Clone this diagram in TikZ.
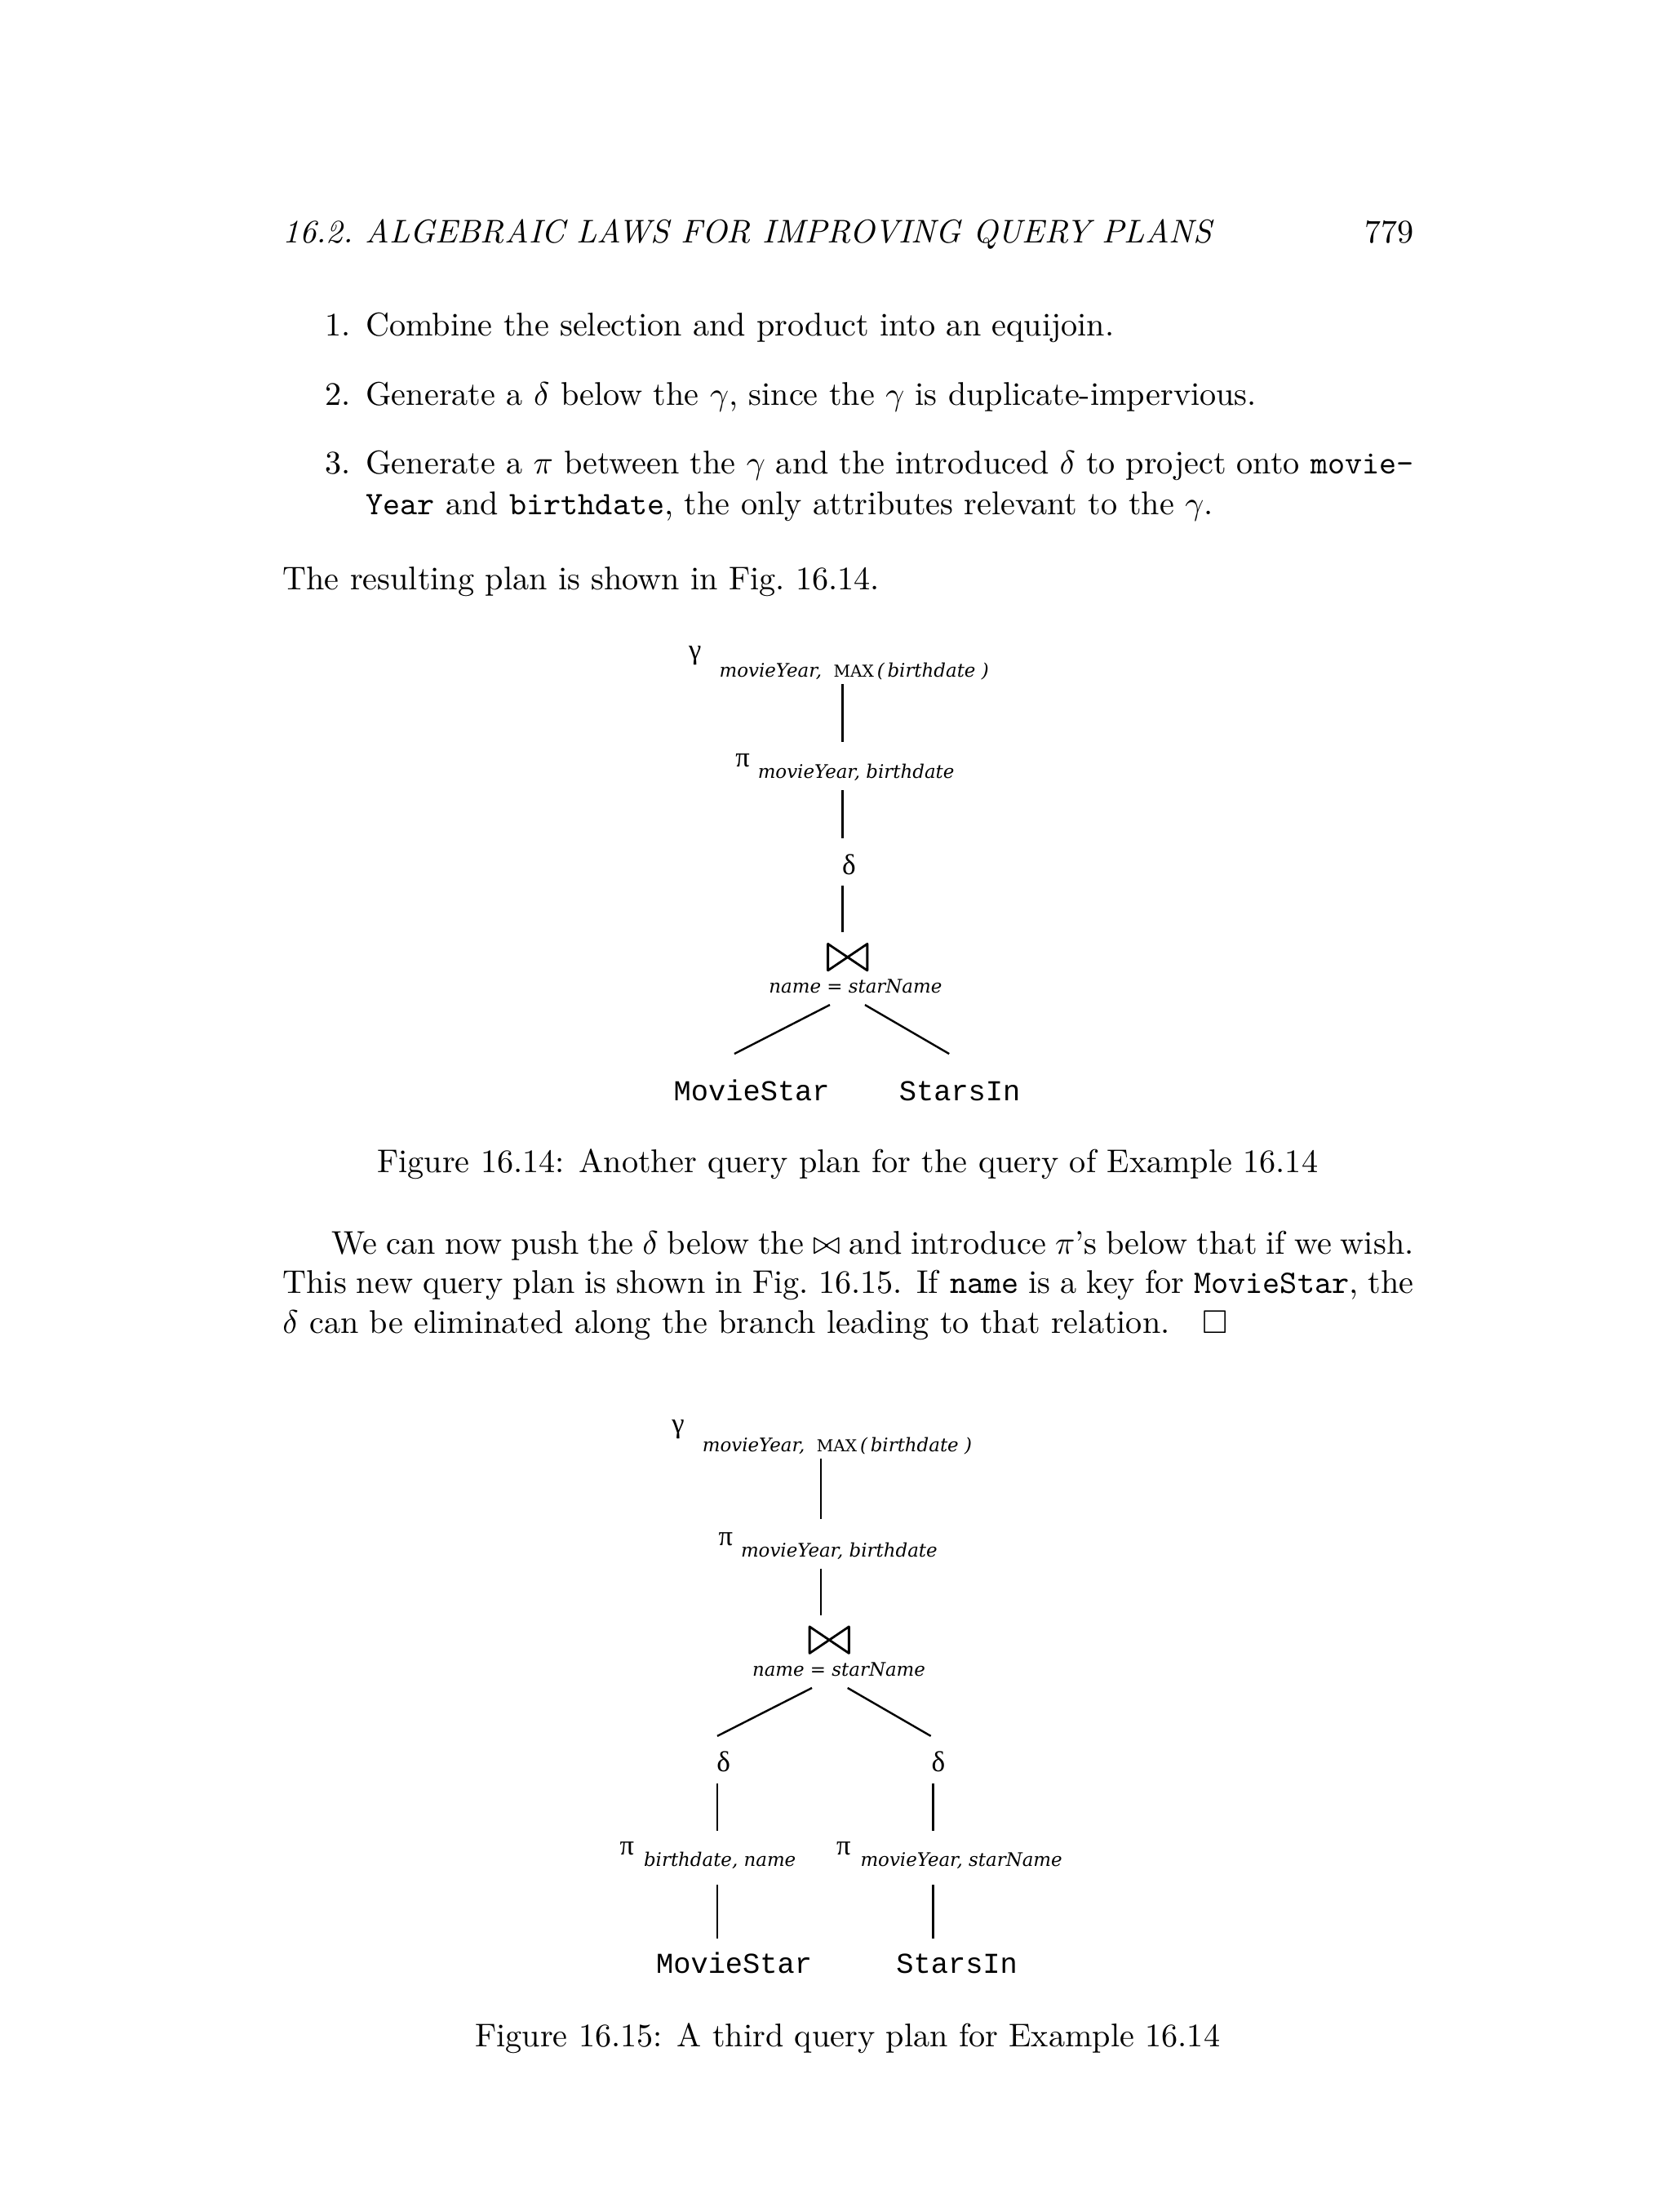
\documentclass[tikz,border=0pt]{standalone}
\usepackage{amsmath,amssymb}
\usepackage{fontspec}
\newfontfamily\planital{DejaVu Serif}
\newfontfamily\plangreek{Liberation Serif}
\newfontfamily\planmono{Liberation Mono}
\usetikzlibrary{calc}

\newcommand{\opsub}[1]{{\planital\itshape\fontsize{5.7}{6}\selectfont #1}}
\newcommand{\opmax}[1]{{\planital\upshape\fontsize{5}{6}\selectfont #1}}
\newcommand{\opgreek}[2]{\raisebox{#2}{\plangreek\fontsize{8.6}{9}\selectfont #1}}
\newcommand{\relname}[1]{{\planmono\fontsize{8.8}{10}\selectfont #1}}

\begin{document}
\begin{tikzpicture}[x=0.43pt, y=-0.43pt, line join=round,
    txt/.style={anchor=base west, inner sep=0pt},
    op/.style={anchor=base west, inner sep=0pt},
    dup/.style={anchor=base, inner sep=0pt, font=\plangreek\fontsize{8.8}{9}\selectfont},
    rel/.style={anchor=base, inner sep=0pt, font=\planmono\fontsize{8.8}{10}\selectfont},
    cond/.style={anchor=base, inner sep=0pt},
    joinsym/.style={inner sep=0pt, minimum width=11.6pt, minimum height=7.7pt},
    planline/.style={line width=0.6pt}]
  \useasboundingbox (0,0) rectangle (1185,1568);

  % page text
  \node[txt] (hdr) at (200,172) {\itshape 16.2.\ ALGEBRAIC LAWS FOR IMPROVING QUERY PLANS};
  \node[txt,anchor=base east] (pgno) at (1003,172) {779};
  \node[txt,anchor=base east] (num1) at (249,238) {1.};
  \node[txt] (item1) at (259,238) {Combine the selection and product into an equijoin.};
  \node[txt,anchor=base east] (num2) at (249,287) {2.};
  \node[txt] (item2) at (259,287) {Generate a $\delta$ below the $\gamma$, since the $\gamma$ is duplicate-impervious.};
  \node[txt,anchor=base east] (num3) at (249,336) {3.};
  \node[txt] (item3a) at (259,336) {\makebox[319.5pt][s]{Generate a $\pi$ between the $\gamma$ and the introduced $\delta$ to project onto \texttt{movie-}}};
  \node[txt] (item3b) at (259,365) {\texttt{Year} and \texttt{birthdate}, the only attributes relevant to the $\gamma$.};
  \node[txt] (res) at (200,418) {The resulting plan is shown in Fig.~16.14.};
  \node[txt,anchor=base] (cap1) at (601,831) {Figure 16.14: Another query plan for the query of Example 16.14};
  \node[txt] (para1) at (235,889) {\makebox[329.8pt][s]{We can now push the $\delta$ below the $\bowtie$ and introduce $\pi$'s below that if we wish.}};
  \node[txt] (para2) at (200,917) {\makebox[344.9pt][s]{This new query plan is shown in Fig.~16.15. If \texttt{name} is a key for \texttt{MovieStar}, the}};
  \node[txt] (para3) at (200,945) {$\delta$ can be eliminated along the branch leading to that relation.\quad$\Box$};
  \node[txt,anchor=base] (cap2) at (601,1451) {Figure 16.15: A third query plan for Example 16.14};

  % Figure 16.14
  \coordinate (ax1) at (597.5,0);
  \node[op] (gam1) at (488,480) {\opgreek{γ}{5.6pt}\hspace{5.5pt}\opsub{movieYear,\ \ \opmax{MAX}\,(\,birthdate\ )}};
  \node[op] (pi1) at (521,551.6) {\opgreek{π}{3.4pt}\hspace{2.5pt}\opsub{movieYear, birthdate}};
  \node[dup] (del1) at (602,620) {δ};
  \node[joinsym] (join1) at (601,678.5) {};
  \node[cond] (cond1) at (606.6,704) {\opsub{name = starName}};
  \node[rel] (ms1) at (533,780) {MovieStar};
  \node[rel] (si1) at (680.5,780) {StarsIn};
  \draw[line width=0.7pt] (join1.north west) -- (join1.south east) -- (join1.north east) -- (join1.south west) -- cycle;
  \draw[planline] ($(gam1.base -| ax1)+(0,5)$) -- ($(pi1.base -| ax1)+(0,-25.6)$);
  \draw[planline] ($(pi1.base -| ax1)+(0,8.4)$) -- ($(del1.base -| ax1)+(0,-26)$);
  \draw[planline] ($(del1.base -| ax1)+(0,8)$) -- ($(join1.center -| ax1)+(0,-17.5)$);
  \draw[planline] ($(cond1.base)+(-18.2,8.3)$) -- ($(ms1.base)+(-12.3,-33)$);
  \draw[planline] ($(cond1.base)+(6.7,8.3)$) -- ($(si1.base)+(-7.5,-33)$);

  % Figure 16.15
  \coordinate (ax2) at (582,0);
  \coordinate (axL) at (508.5,0);
  \coordinate (axR) at (661.5,0);
  \node[op] (gam2) at (476,1029) {\opgreek{γ}{5.6pt}\hspace{5.5pt}\opsub{movieYear,\ \ \opmax{MAX}\,(\,birthdate\ )}};
  \node[op] (pi2) at (509,1103.5) {\opgreek{π}{3.4pt}\hspace{2.5pt}\opsub{movieYear, birthdate}};
  \node[joinsym] (join2) at (588,1162.5) {};
  \node[cond] (cond2) at (594.8,1188) {\opsub{name = starName}};
  \node[dup] (delL) at (513,1256) {δ};
  \node[dup] (delR) at (665.4,1256) {δ};
  \node[op] (piL) at (439,1323) {\opgreek{π}{3.4pt}\hspace{3pt}\opsub{birthdate, name}};
  \node[op] (piR) at (592.6,1323) {\opgreek{π}{3.4pt}\hspace{3pt}\opsub{movieYear, starName}};
  \node[rel] (ms2) at (520.5,1399) {MovieStar};
  \node[rel] (si2) at (678.5,1399) {StarsIn};
  \draw[line width=0.7pt] (join2.north west) -- (join2.south east) -- (join2.north east) -- (join2.south west) -- cycle;
  \draw[planline] ($(gam2.base -| ax2)+(0,5)$) -- ($(pi2.base -| ax2)+(0,-27)$);
  \draw[planline] ($(pi2.base -| ax2)+(0,8.4)$) -- ($(join2.center -| ax2)+(0,-17.5)$);
  \draw[planline] ($(cond2.base)+(-19.1,8.5)$) -- ($(delL.base)+(-4.4,-25.4)$);
  \draw[planline] ($(cond2.base)+(6.2,8.5)$) -- ($(delR.base)+(-5.4,-25.4)$);
  \draw[planline] ($(delL.base -| axL)+(0,8)$) -- ($(piL.base -| axL)+(0,-25)$);
  \draw[planline] ($(delR.base -| axR)+(0,8)$) -- ($(piR.base -| axR)+(0,-25)$);
  \draw[planline] ($(piL.base -| axL)+(0,13)$) -- ($(ms2.base -| axL)+(0,-25)$);
  \draw[planline] ($(piR.base -| axR)+(0,13)$) -- ($(si2.base -| axR)+(0,-25)$);
\end{tikzpicture}
\end{document}
